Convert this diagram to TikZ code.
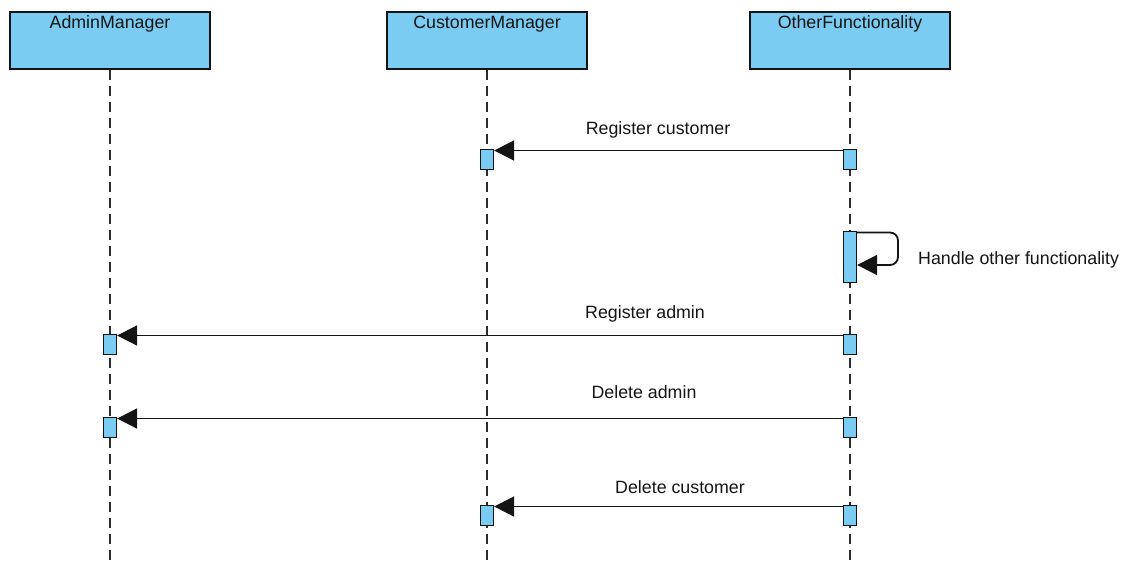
\documentclass[tikz,border=0pt]{standalone}
\usepackage{fontspec}
\setmainfont{Liberation Sans}
\usetikzlibrary{arrows.meta}
\definecolor{boxblue}{RGB}{122,204,242}
\definecolor{ink}{RGB}{20,20,20}
\begin{document}
\begin{tikzpicture}[x=1pt,y=-1pt,
  head/.style={draw=ink,line width=2pt,fill=boxblue,minimum width=200pt,minimum height=57pt,inner sep=0pt,anchor=north},
  act/.style={draw=ink,line width=1.3pt,fill=boxblue,minimum width=13pt,inner sep=0pt,anchor=north},
  life/.style={draw=ink!90,line width=1.4pt,dash pattern=on 10pt off 6pt},
  msg/.style={draw=ink,line width=1.8pt,-{Triangle[length=20pt,width=20pt]}},
  txt/.style={font=\fontsize{17.8}{20}\selectfont,text=ink,anchor=base,inner sep=0pt}]
\useasboundingbox (0,0) rectangle (1132,565);
% heads
\node[head] (am) at (110,11) {};
\node[head] (cm) at (487,11) {};
\node[head] (of) at (850,11) {};
\node[txt] (amt) at (110,28) {AdminManager};
\node[txt] (cmt) at (487,28) {CustomerManager};
\node[txt] (oft) at (850,28) {OtherFunctionality};
% lifelines
\coordinate (amend) at (110,565);
\coordinate (cmend) at (487,565);
\coordinate (ofend) at (850,565);
\draw[life] (am.south) -- (amend);
\draw[life] (cm.south) -- (cmend);
\draw[life] (of.south) -- (ofend);
% activations
\node[act,minimum height=20pt] (cm1) at (487,149) {};
\node[act,minimum height=20pt] (of1) at (850,149) {};
\node[act,minimum height=51pt] (of2) at (850,231) {};
\node[act,minimum height=20pt] (am1) at (110,334) {};
\node[act,minimum height=20pt] (of3) at (850,334) {};
\node[act,minimum height=20pt] (am2) at (110,417) {};
\node[act,minimum height=20pt] (of4) at (850,417) {};
\node[act,minimum height=20pt] (cm2) at (487,505) {};
\node[act,minimum height=20pt] (of5) at (850,505) {};
% messages
\draw[msg] ([yshift=-1.5pt]of1.north west) -- ([yshift=-1.5pt]cm1.north east);
\node[txt] (l1) at (658,134) {Register customer};
\coordinate (loop) at (898,265);
\draw[msg,rounded corners=8pt] ([yshift=-1.5pt]of2.north east) -| (loop) -- (of2.east |- loop);
\node[txt,anchor=base west] (l2) at (918,264) {Handle other functionality};
\draw[msg] ([yshift=-1.5pt]of3.north west) -- ([yshift=-1.5pt]am1.north east);
\node[txt] (l3) at (645,318) {Register admin};
\draw[msg] ([yshift=-1.5pt]of4.north west) -- ([yshift=-1.5pt]am2.north east);
\node[txt] (l4) at (644,398) {Delete admin};
\draw[msg] ([yshift=-1.5pt]of5.north west) -- ([yshift=-1.5pt]cm2.north east);
\node[txt] (l5) at (680,493) {Delete customer};
\end{tikzpicture}
\end{document}
